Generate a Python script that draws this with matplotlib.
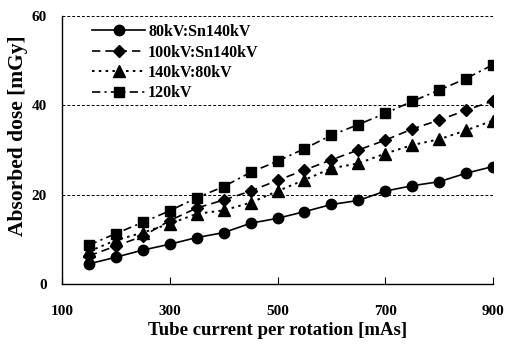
import matplotlib
matplotlib.use("Agg")
import matplotlib.pyplot as plt

mas = [150, 200, 250, 300, 350, 400, 450, 500, 550, 600, 650, 700, 750, 800, 850, 900]
kv80_sn140 = [4.5, 6.0, 7.6, 8.9, 10.4, 11.5, 13.6, 14.7, 16.2, 17.8, 18.7, 20.8, 22.0, 22.9, 24.8, 26.3]
kv100_sn140 = [6.3, 8.5, 10.7, 14.2, 17.0, 18.8, 20.8, 23.2, 25.5, 27.8, 30.0, 32.2, 34.7, 36.7, 38.9, 41.0]
kv140_80 = [7.3, 9.8, 11.5, 13.5, 15.7, 16.5, 18.2, 20.8, 23.3, 25.9, 27.0, 29.2, 31.1, 32.4, 34.4, 36.6]
kv120 = [8.7, 11.3, 13.8, 16.4, 19.3, 21.8, 25.0, 27.5, 30.3, 33.3, 35.7, 38.2, 40.9, 43.4, 46.0, 49.1]
labels = ["80kV:Sn140kV", "100kV:Sn140kV", "140kV:80kV", "120kV"]
xticks = [100, 300, 500, 700, 900]
yticks = [0, 20, 40, 60]

plt.rcParams['font.family'] = ['Liberation Serif', 'DejaVu Serif']
plt.rcParams['font.weight'] = 'bold'

fig = plt.figure(figsize=(5.05, 3.45), dpi=100)
ax = fig.add_axes([62/505, 1-284/345, (493-62)/505, (284-16)/345])

ax.plot(mas, kv80_sn140, color='black', linestyle='-', linewidth=1.2, marker='o', markersize=7.5, label=labels[0])
ax.plot(mas, kv100_sn140, color='black', linestyle=(0, (5, 3)), linewidth=1.2, marker='D', markersize=6, label=labels[1])
ax.plot(mas, kv140_80, color='black', linestyle=(0, (1.3, 2.2)), linewidth=1.4, marker='^', markersize=8, label=labels[2])
ax.plot(mas, kv120, color='black', linestyle=(0, (5, 2.5, 1.3, 2.5)), linewidth=1.2, marker='s', markersize=6.5, label=labels[3])

ax.set_xlim(100, 900)
ax.set_ylim(0, 60)
ax.set_xticks(xticks)
ax.set_yticks(yticks)
ax.set_xticklabels([str(v) for v in xticks], fontsize=11, fontweight='bold')
ax.set_yticklabels([str(v) for v in yticks], fontsize=11, fontweight='bold')
ax.tick_params(axis='x', direction='in', length=5, width=0.8, pad=15)
ax.tick_params(axis='y', direction='in', length=0, pad=10.8)

for y in [20, 40, 60]:
    ax.axhline(y, color='black', linestyle=(0, (3, 2)), linewidth=0.7, zorder=0)

ax.spines['top'].set_visible(False)
ax.spines['right'].set_visible(False)
ax.spines['left'].set_linewidth(1.0)
ax.spines['bottom'].set_linewidth(1.0)

ax.set_xlabel("Tube current per rotation [mAs]", fontsize=13.5, fontweight='bold', labelpad=3)
ax.set_ylabel("Absorbed dose [mGy]", fontsize=15.5, fontweight='bold')
ax.yaxis.set_label_coords(-0.08, 0.554)

leg = ax.legend(loc='upper left', bbox_to_anchor=(0.07, 0.97), frameon=False,
                borderpad=0, borderaxespad=0, handlelength=3.3, handletextpad=0.2,
                labelspacing=0.28, prop={'size': 11.5, 'weight': 'bold'})

fig.savefig("out.png", dpi=100)
